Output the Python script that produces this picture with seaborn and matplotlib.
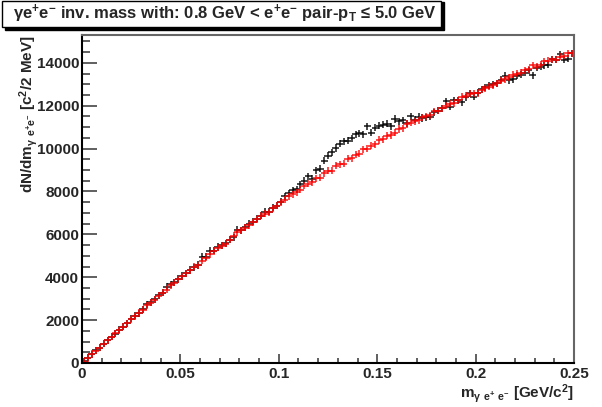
import numpy as np
import pandas as pd
import matplotlib
matplotlib.use('Agg')
import matplotlib.pyplot as plt
from matplotlib.patches import Rectangle
from matplotlib.ticker import MultipleLocator, FuncFormatter
import seaborn as sns

# 2 MeV bins from 0 to 0.25 GeV/c^2
bin_width = 0.002
n_bins = 125

# red: smooth reference, black: data with bump around 0.11-0.17
red_counts = [
    60, 233, 419, 574, 713, 899, 1054, 1225, 1380, 1535,
    1690, 1860, 2047, 2186, 2341, 2481, 2698, 2822, 2962, 3147,
    3271, 3426, 3628, 3752, 3907, 4047, 4186, 4326, 4480, 4558,
    4776, 4915, 5070, 5223, 5380, 5472, 5567, 5753, 5940, 6093,
    6186, 6312, 6433, 6572, 6712, 6870, 6963, 7037, 7223, 7335,
    7490, 7620, 7775, 7860, 7969, 8078, 8264, 8357, 8434, 8620,
    8651, 8853, 8961, 8977, 9194, 9271, 9302, 9519, 9550, 9721,
    9752, 9969, 10000, 10140, 10202, 10403, 10434, 10605, 10636, 10744,
    10915, 10946, 11147, 11209, 11271, 11333, 11457, 11519, 11550, 11736,
    11767, 11891, 12000, 12100, 12124, 12248, 12419, 12465, 12558, 12589,
    12589, 12744, 12806, 12884, 12946, 13039, 13163, 13240, 13318, 13457,
    13488, 13550, 13659, 13705, 13891, 13829, 13922, 14078, 14093, 14171,
    14140, 14295, 14326, 14450, 14450]

black_counts = [
    70, 240, 410, 590, 720, 890, 1070, 1230, 1370, 1550,
    1700, 1850, 2060, 2200, 2330, 2500, 2730, 2830, 2980, 3170,
    3280, 3550, 3670, 3760, 3920, 4060, 4190, 4340, 4470, 4570,
    4945, 4960, 5223, 5240, 5410, 5490, 5580, 5760, 5874, 6219,
    6200, 6330, 6496, 6590, 6720, 6880, 7056, 7060, 7240, 7340,
    7520, 7767, 7921, 8050, 8110, 8330, 8510, 8710, 8590, 9000,
    9070, 9440, 9670, 9830, 10030, 10220, 10340, 10370, 10490, 10680,
    10720, 10680, 11040, 10740, 10980, 11070, 11120, 11160, 11040, 11380,
    11270, 11330, 11180, 11500, 11350, 11490, 11430, 11460, 11488, 11700,
    11760, 11880, 12202, 11953, 12264, 12264, 12155, 12400, 12574, 12419,
    12600, 12775, 12853, 12961, 13000, 13039, 13209, 13395, 13194, 13240,
    13395, 13457, 13550, 13659, 13426, 13783, 13829, 13891, 13907, 14171,
    14140, 14403, 14140, 14202, 14450]

title = ("\u03b3e$^{+}$e$^{-}$ inv. mass with: 0.8 GeV < e$^{+}$e$^{-}$ "
         "pair-p$_{T}$ \u2264 5.0 GeV")
xlabel = "m$_{\\gamma\\ e^{+}\\ e^{-}}$ [GeV/c$^{2}$]"
ylabel = "dN/dm$_{\\gamma\\ e^{+}e^{-}}$ [c$^{2}$/2 MeV]"

sns.set_style('ticks')
plt.rcParams['font.family'] = ['Liberation Sans', 'DejaVu Sans']
plt.rcParams['font.weight'] = 'bold'
plt.rcParams['axes.labelweight'] = 'bold'
plt.rcParams['mathtext.default'] = 'regular'

centers = (np.arange(n_bins) + 0.5) * bin_width
df = pd.concat([
    pd.DataFrame({'mass': centers, 'counts': black_counts, 'sample': 'data'}),
    pd.DataFrame({'mass': centers, 'counts': red_counts, 'sample': 'reference'}),
])

fig = plt.figure(figsize=(6.02, 4.07), dpi=100)
ax = fig.add_axes([82 / 602, 1 - 363 / 407, 492 / 602, 328 / 407])

sns.scatterplot(data=df, x='mass', y='counts', hue='sample',
                palette={'data': 'black', 'reference': '#ff0000'},
                marker='+', s=26, linewidth=1.1, alpha=0.9,
                legend=False, ax=ax)

ax.set_xlim(0, 0.25)
ax.set_ylim(0, 15300)
ax.xaxis.set_major_locator(MultipleLocator(0.05))
ax.xaxis.set_minor_locator(MultipleLocator(0.01))
ax.yaxis.set_major_locator(MultipleLocator(2000))
ax.yaxis.set_minor_locator(MultipleLocator(500))
ax.xaxis.set_major_formatter(FuncFormatter(lambda v, p: f'{v:g}'))

ax.tick_params(which='both', direction='in', top=False, right=False,
               labelsize=11, color='#444444', width=1.2)
ax.tick_params(axis='y', which='major', length=10.5, pad=2)
ax.tick_params(axis='y', which='minor', length=5.5)
ax.tick_params(axis='x', which='major', length=6.5, pad=3)
ax.tick_params(axis='x', which='minor', length=3.5)
for lab in ax.get_xticklabels() + ax.get_yticklabels():
    lab.set_fontweight('bold')

for side in ['left', 'bottom']:
    ax.spines[side].set_color('black')
    ax.spines[side].set_linewidth(1.5)
for side in ['top', 'right']:
    ax.spines[side].set_color('#666666')
    ax.spines[side].set_linewidth(1.5)

ax.set_xlabel(xlabel, loc='right', fontsize=11, fontweight='bold')
ax.xaxis.set_label_coords(1.0, -0.058)
ax.set_ylabel(ylabel, loc='top', fontsize=11, fontweight='bold')
ax.yaxis.set_label_coords(-0.085, 1.0)

# title pave with shadow
fig.patches.append(Rectangle((5 / 602, 1 - 30 / 407), 439 / 602, 28 / 407,
                             transform=fig.transFigure, facecolor='black',
                             edgecolor='black', zorder=1))
fig.patches.append(Rectangle((2 / 602, 1 - 27 / 407), 439 / 602, 26 / 407,
                             transform=fig.transFigure, facecolor='white',
                             edgecolor='black', linewidth=1, zorder=2))
fig.text(13 / 602, 1 - 14 / 407, title, ha='left', va='center',
         fontsize=12, fontweight='bold', zorder=3)

fig.savefig('out.png', dpi=100)
